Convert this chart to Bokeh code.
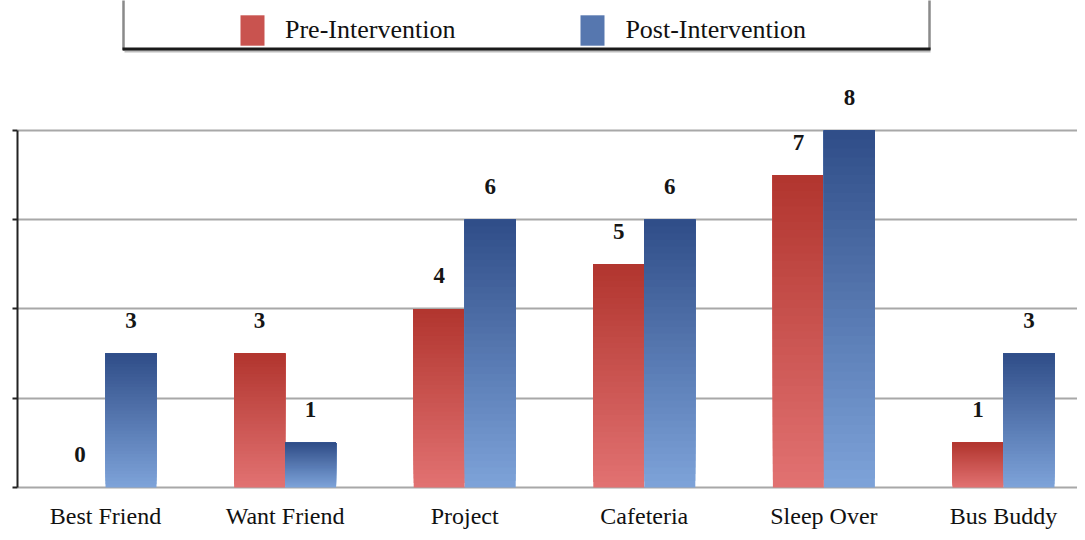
import numpy as np
from bokeh.plotting import figure
from bokeh.models import Range1d, FixedTicker, Legend, LegendItem, BoxAnnotation
from bokeh.embed import file_html
from bokeh.resources import INLINE
from bokeh.core.properties import value

categories = ["Best Friend", "Want Friend", "Project", "Cafeteria", "Sleep Over", "Bus Buddy"]
pre_values = [0, 3, 4, 5, 7, 1]
post_values = [3, 1, 6, 6, 8, 3]
series_names = ["Pre-Intervention", "Post-Intervention"]
y_ticks = [0, 2, 4, 6, 8]

FONT = "Liberation Serif"


def lerp(c1, c2, t):
    a = [int(c1[i:i + 2], 16) for i in (1, 3, 5)]
    b = [int(c2[i:i + 2], 16) for i in (1, 3, 5)]
    return "#%02x%02x%02x" % tuple(int(round(a[j] + (b[j] - a[j]) * t)) for j in range(3))


p = figure(width=1077, height=532, output_backend="svg", toolbar_location=None,
           x_range=Range1d(-0.49, 5.412), y_range=Range1d(-0.09, 10.913),
           min_border_left=17, min_border_right=0, min_border_top=0, min_border_bottom=41)
p.outline_line_color = None
p.background_fill_color = "white"

xs = np.arange(len(categories), dtype=float)
bw = 0.284
N = 40
styles = [
    (pre_values, "#e27272", "#b1352e", -bw / 2),
    (post_values, "#7ea3d9", "#2f4d88", bw / 2),
]
legend_renderers = []
for vals, light, dark, off in styles:
    v = np.array(vals, dtype=float)
    mid = None
    for k in range(N):
        t = (k + 0.5) / N
        r = p.vbar(x=xs + off, width=bw, bottom=v * k / N, top=v,
                   fill_color=lerp(light, dark, t), line_color=None)
        if k == N // 2:
            mid = r
    legend_renderers.append(mid)
    p.text(x=xs + off, y=v, text=[str(int(a)) for a in vals],
           text_align="center", text_baseline="alphabetic", y_offset=-33,
           text_font=value(FONT), text_font_size="23px", text_font_style="bold",
           text_color="#151515")

# y axis (line and ticks only, as in the reference)
p.yaxis.ticker = FixedTicker(ticks=y_ticks)
p.yaxis.bounds = (0, 8)
p.yaxis.major_label_overrides = {t: "" for t in y_ticks}
p.yaxis.major_label_standoff = 0
p.yaxis.major_tick_out = 5
p.yaxis.major_tick_in = 0
p.yaxis.minor_tick_out = 0
p.yaxis.minor_tick_in = 0
p.yaxis.axis_line_width = 2
p.yaxis.axis_line_color = "#222222"
p.yaxis.major_tick_line_width = 2
p.yaxis.major_tick_line_color = "#222222"

p.ygrid.ticker = FixedTicker(ticks=y_ticks)
p.ygrid.grid_line_color = "#a8a8a8"
p.ygrid.grid_line_width = 2
p.xgrid.visible = False

# x axis
p.xaxis.ticker = FixedTicker(ticks=list(range(len(categories))))
p.xaxis.major_label_overrides = {i: c for i, c in enumerate(categories)}
p.xaxis.axis_line_color = None
p.xaxis.major_tick_line_color = None
p.xaxis.minor_tick_line_color = None
p.xaxis.major_label_standoff = 5
p.xaxis.major_label_text_font = FONT
p.xaxis.major_label_text_font_size = "24px"
p.xaxis.major_label_text_color = "#111111"

# legend frame: grey sides, dark bottom edge with a soft shadow
box = BoxAnnotation(left=123, right=929, top=-10, bottom=49,
                    left_units="canvas", right_units="canvas",
                    top_units="canvas", bottom_units="canvas",
                    fill_color="white", fill_alpha=1,
                    line_color="#8a8a8a", line_alpha=1, line_width=2.5)
p.add_layout(box)
shadow = BoxAnnotation(left=124, right=930, top=49, bottom=52,
                       left_units="canvas", right_units="canvas",
                       top_units="canvas", bottom_units="canvas",
                       fill_color="#bdbdbd", fill_alpha=1, line_color=None)
p.add_layout(shadow)
edge = BoxAnnotation(left=122, right=930, top=47, bottom=50,
                     left_units="canvas", right_units="canvas",
                     top_units="canvas", bottom_units="canvas",
                     fill_color="#1a1a1a", fill_alpha=1, line_color=None)
p.add_layout(edge)

legend = Legend(items=[LegendItem(label=series_names[0], renderers=[legend_renderers[0]]),
                       LegendItem(label=series_names[1], renderers=[legend_renderers[1]])],
                orientation="horizontal", location=(220, 442), padding=0, margin=0,
                spacing=122, glyph_width=30, glyph_height=38, label_height=38,
                label_standoff=18, label_text_font=FONT, label_text_font_size="26px",
                label_text_color="#111111",
                border_line_color=None, background_fill_alpha=0)
p.add_layout(legend, "center")

open("out.html", "w").write(file_html(p, INLINE))
